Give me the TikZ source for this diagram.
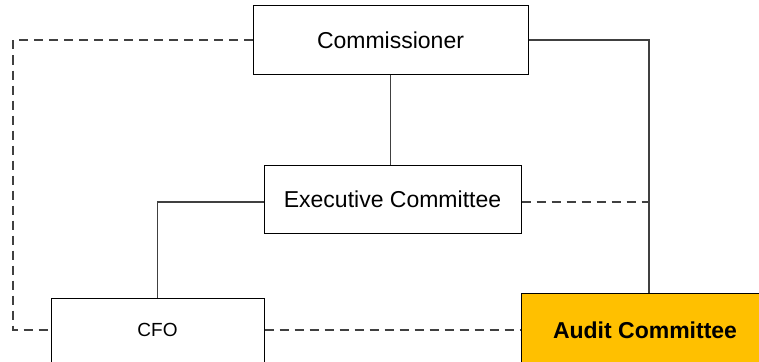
\documentclass[tikz,border=0pt]{standalone}
\usepackage{fontspec}
\setmainfont{Liberation Sans}
\definecolor{auditorange}{HTML}{FFC000}
\tikzset{
  orgbox/.style={draw=black,line width=1pt,fill=white,font=\fontsize{23}{27}\selectfont},
  solidlink/.style={draw=black!75,line width=1.1pt},
  dashlink/.style={draw=black!75,line width=1.3pt,dash pattern=on 9pt off 6pt}
}
\begin{document}
\begin{tikzpicture}[x=1pt,y=-1pt]
\useasboundingbox (0,0) rectangle (759,361);
\clip (0,0) rectangle (759,361);
% boxes
\node[orgbox,minimum width=275pt,minimum height=68pt] (comm) at (390.5,40) {Commissioner};
\node[orgbox,minimum width=257pt,minimum height=68pt] (exec) at (392.5,199) {Executive Committee};
\node[orgbox,minimum width=213pt,minimum height=64pt,font=\fontsize{19}{22}\selectfont] (cfo) at (157.5,330) {CFO};
\node[orgbox,fill=auditorange,minimum width=248pt,minimum height=74pt,font=\fontsize{23}{27}\selectfont\bfseries] (audit) at (645,330) {Audit Committee};
% rails
\coordinate (rail) at (649,40);
\coordinate (lrail) at (13,40);
\coordinate (ejoin) at (264,202);
% solid lines
\draw[solidlink] (comm.south) -- (comm.south |- exec.north);
\draw[solidlink] (comm.east) -- (rail) -- (rail |- audit.north);
\draw[solidlink] (ejoin) -| (cfo.north);
% dashed lines
\draw[dashlink] (comm.west) -- (lrail) |- (cfo.west);
\draw[dashlink] (ejoin -| exec.east) -- (ejoin -| rail);
\draw[dashlink] (cfo.east) -- (audit.west);
\end{tikzpicture}
\end{document}
